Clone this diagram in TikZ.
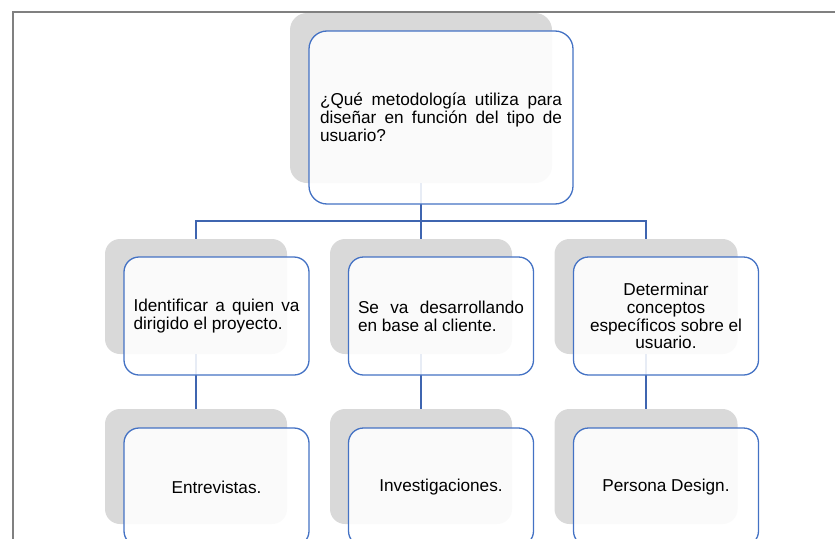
\documentclass[tikz,border=0pt]{standalone}
\usepackage{fontspec}
\setmainfont{Liberation Sans}
\definecolor{boxblue}{HTML}{4472C4}
\definecolor{lineblue}{HTML}{3F65B0}
\definecolor{shade}{HTML}{D9D9D9}
\definecolor{framegray}{HTML}{808080}
\newcommand{\jl}[2]{\makebox[#1][s]{#2}}
\begin{document}
\begin{tikzpicture}[x=1pt,y=-1pt,
  back/.style={draw=none,fill=shade,rounded corners=15pt,inner sep=0pt},
  front/.style={draw=boxblue,line width=1.3pt,fill=white,fill opacity=0.88,text opacity=1,
     rounded corners=15pt,inner sep=0pt,font=\fontsize{17.2}{17.8}\selectfont},
  conn/.style={draw=lineblue,line width=1.3pt}]
\useasboundingbox (0,0) rectangle (835,538);
\clip (0,0) rectangle (835,538);
\draw[framegray,line width=1.2pt] (13,560) -- (13,12) -- (860,12);
% shadow blocks
\node[back,minimum width=262pt,minimum height=170pt,rounded corners=17pt] (g0) at (421,98) {};
\node[back,minimum width=182pt,minimum height=115pt] (g1) at (196,296.5) {};
\node[back,minimum width=182pt,minimum height=115pt] (g2) at (421,296.5) {};
\node[back,minimum width=183pt,minimum height=115pt] (g3) at (646,296.5) {};
\node[back,minimum width=182pt,minimum height=115pt] (g4) at (196,466.5) {};
\node[back,minimum width=182pt,minimum height=115pt] (g5) at (421,466.5) {};
\node[back,minimum width=183pt,minimum height=115pt] (g6) at (646,466.5) {};
% connectors
\coordinate (hj) at (421,221);
\draw[conn] (g0.south) -- (hj);
\draw[conn] (hj) -| (g1.north);
\draw[conn] (hj) -- (g2.north);
\draw[conn] (hj) -| (g3.north);
\draw[conn] (g1.south) -- (g4.north);
\draw[conn] (g2.south) -- (g5.north);
\draw[conn] (g3.south) -- (g6.north);
% front boxes
\node[front,minimum width=264pt,minimum height=173pt,rounded corners=18pt,align=left] (b0) at (441,117.5)
  {\jl{242pt}{¿Qué metodología utiliza para}\\ \jl{242pt}{diseñar en función del tipo de}\\ \makebox[242pt][l]{usuario?}};
\node[front,minimum width=185pt,minimum height=118pt,align=left] (b1) at (216.5,316)
  {\jl{166pt}{Identificar a quien va}\\ \makebox[166pt][l]{dirigido el proyecto.}};
\node[front,minimum width=185pt,minimum height=118pt,align=left] (b2) at (441,316)
  {\jl{166pt}{Se va desarrollando}\\ \makebox[166pt][l]{en base al cliente.}};
\node[front,minimum width=185pt,minimum height=118pt,align=center] (b3) at (666,316)
  {Determinar\\ conceptos\\ específicos sobre el\\ usuario.};
\node[front,minimum width=185pt,minimum height=118pt] (b4) at (216.5,487) {Entrevistas.};
\node[front,minimum width=185pt,minimum height=118pt] (b5) at (441,487) {Investigaciones.};
\node[front,minimum width=185pt,minimum height=118pt] (b6) at (666,487) {Persona Design.};
\end{tikzpicture}
\end{document}
